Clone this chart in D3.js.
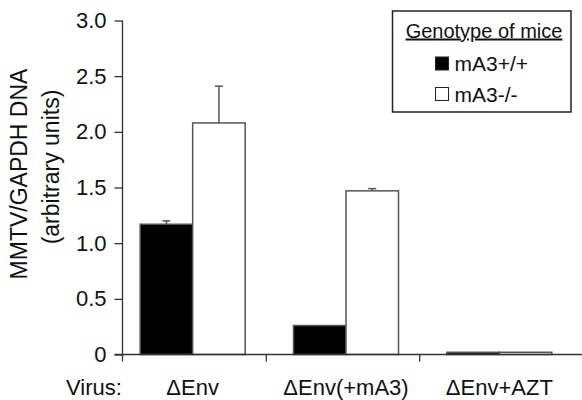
<!DOCTYPE html>
<html>
<head>
<meta charset="utf-8">
<script src="https://cdn.jsdelivr.net/npm/d3@7"></script>
<style>
  body { margin: 0; background: #fff; }
  text { font-family: "Liberation Sans", Arial, Helvetica, sans-serif; fill: #111; }
</style>
</head>
<body>
<div id="chart"></div>
<script>
// data
const viruses = ["\u0394Env", "\u0394Env(+mA3)", "\u0394Env+AZT"];
const genotypes = ["mA3+/+", "mA3-/-"];
const wildType = [1.17, 0.26, 0.02];     // mA3+/+
const knockout = [2.08, 1.47, 0.02];     // mA3-/-
const wildTypeErr = [0.03, 0, 0];
const knockoutErr = [0.33, 0.02, 0];
const yTicks = [0, 0.5, 1.0, 1.5, 2.0, 2.5, 3.0];

const data = viruses.map((v, i) => ({
  virus: v,
  values: [
    { genotype: genotypes[0], value: wildType[i], err: wildTypeErr[i] },
    { genotype: genotypes[1], value: knockout[i], err: knockoutErr[i] },
  ],
}));

const width = 582;
const height = 400;

const dimensions = {
  axisX: 122.5,
  top: 20.5,
  bottom: 354.5,
};

const svg = d3
  .select("#chart")
  .append("svg")
  .attr("width", width)
  .attr("height", height);

const yScale = d3
  .scaleLinear()
  .domain([0, 3])
  .range([dimensions.bottom, dimensions.top]);

const xScale = d3.scaleBand().domain(viruses).range([116, 576]);

const subScale = d3
  .scaleBand()
  .domain(genotypes)
  .range([(xScale.bandwidth() - 105) / 2, (xScale.bandwidth() + 105) / 2]);

const fillOf = { "mA3+/+": "#000", "mA3-/-": "#fff" };

// bars
const groups = svg
  .selectAll(".group")
  .data(data)
  .join("g")
  .attr("class", "group")
  .attr("transform", (d) => `translate(${xScale(d.virus)},0)`);

groups
  .selectAll("rect")
  .data((d) => d.values)
  .join("rect")
  .attr("x", (d) => subScale(d.genotype))
  .attr("y", (d) => yScale(d.value))
  .attr("width", subScale.bandwidth())
  .attr("height", (d) => yScale(0) - yScale(d.value))
  .attr("fill", (d) => fillOf[d.genotype])
  .attr("stroke", "#555")
  .attr("stroke-width", 1.5);

// error bars (upper half only)
const errs = groups
  .selectAll(".err")
  .data((d) => d.values.filter((v) => v.err > 0))
  .join("g")
  .attr("class", "err")
  .attr("stroke", "#555")
  .attr("stroke-width", 1.5);

errs
  .append("line")
  .attr("x1", (d) => subScale(d.genotype) + subScale.bandwidth() / 2)
  .attr("x2", (d) => subScale(d.genotype) + subScale.bandwidth() / 2)
  .attr("y1", (d) => yScale(d.value))
  .attr("y2", (d) => yScale(d.value + d.err));

errs
  .append("line")
  .attr("x1", (d) => subScale(d.genotype) + subScale.bandwidth() / 2 - 4)
  .attr("x2", (d) => subScale(d.genotype) + subScale.bandwidth() / 2 + 4)
  .attr("y1", (d) => yScale(d.value + d.err))
  .attr("y2", (d) => yScale(d.value + d.err));

// y axis
const yAxis = svg
  .append("g")
  .attr("transform", `translate(${dimensions.axisX},0)`)
  .call(
    d3
      .axisLeft(yScale)
      .tickValues(yTicks)
      .tickSize(8)
      .tickSizeOuter(0)
      .tickPadding(8)
      .tickFormat((d) => (d === 0 ? "0" : d3.format(".1f")(d)))
  );
yAxis.select(".domain").remove();
yAxis.selectAll(".tick line").attr("stroke", "#333").attr("stroke-width", 1.3);
yAxis
  .selectAll(".tick text")
  .attr("font-size", 22)
  .attr("font-family", "Liberation Sans, Arial, sans-serif")
  .attr("fill", "#111");

svg
  .append("line")
  .attr("x1", dimensions.axisX)
  .attr("x2", dimensions.axisX)
  .attr("y1", yScale(3))
  .attr("y2", yScale(0) + 7)
  .attr("stroke", "#333")
  .attr("stroke-width", 1.3);

// x axis
svg
  .append("line")
  .attr("x1", dimensions.axisX - 8)
  .attr("x2", width)
  .attr("y1", yScale(0))
  .attr("y2", yScale(0))
  .attr("stroke", "#333")
  .attr("stroke-width", 1.3);

svg
  .selectAll(".xtick")
  .data(viruses.slice(1))
  .join("line")
  .attr("class", "xtick")
  .attr("x1", (d) => xScale(d) - 3)
  .attr("x2", (d) => xScale(d) - 3)
  .attr("y1", yScale(0))
  .attr("y2", yScale(0) + 7)
  .attr("stroke", "#333")
  .attr("stroke-width", 1.3);

svg
  .selectAll(".xlabel")
  .data(viruses)
  .join("text")
  .attr("class", "xlabel")
  .attr("x", (d) => xScale(d) + xScale.bandwidth() / 2)
  .attr("y", 395)
  .attr("text-anchor", "middle")
  .attr("font-size", 22)
  .text((d) => d);

svg
  .append("text")
  .attr("x", 66)
  .attr("y", 395)
  .attr("font-size", 22)
  .text("Virus:");

// y title
svg
  .append("text")
  .attr("transform", "translate(27,174) rotate(-90)")
  .attr("text-anchor", "middle")
  .attr("font-size", 23)
  .text("MMTV/GAPDH DNA");

svg
  .append("text")
  .attr("transform", "translate(59,167) rotate(-90)")
  .attr("text-anchor", "middle")
  .attr("font-size", 23)
  .text("(arbitrary units)");

// legend
const legend = svg.append("g");
legend
  .append("rect")
  .attr("x", 392.5)
  .attr("y", 11)
  .attr("width", 178.5)
  .attr("height", 101)
  .attr("fill", "#fff")
  .attr("stroke", "#222")
  .attr("stroke-width", 1.5);

legend
  .append("text")
  .attr("x", 484)
  .attr("y", 37.5)
  .attr("text-anchor", "middle")
  .attr("font-size", 20)
  .attr("text-decoration", "underline")
  .text("Genotype of mice");

const items = legend
  .selectAll(".item")
  .data(genotypes)
  .join("g")
  .attr("class", "item")
  .attr("transform", (d, i) => `translate(435,${71 + i * 30.5})`);

items
  .append("rect")
  .attr("x", 0.5)
  .attr("y", -14)
  .attr("width", 13)
  .attr("height", 13)
  .attr("fill", (d) => fillOf[d])
  .attr("stroke", "#222")
  .attr("stroke-width", 1);

items
  .append("text")
  .attr("x", 19.5)
  .attr("y", 0)
  .attr("font-size", 21)
  .text((d) => d);
</script>
</body>
</html>
